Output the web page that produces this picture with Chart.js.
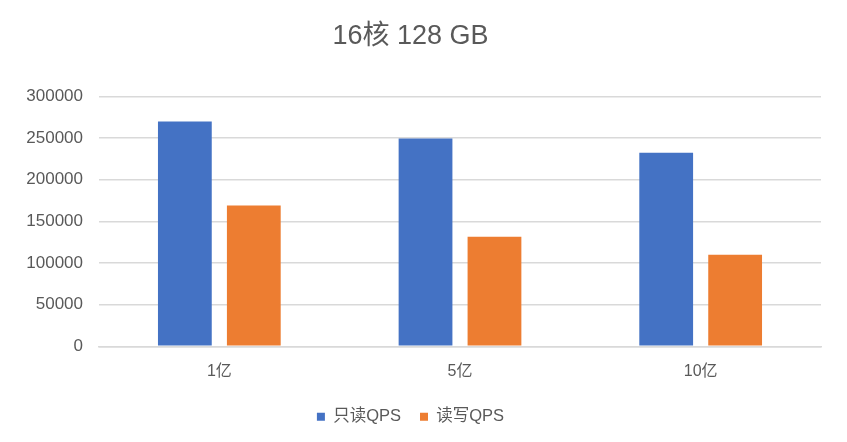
<!DOCTYPE html>
<html>
<head>
<meta charset="utf-8">
<script src="https://cdn.jsdelivr.net/npm/chart.js@4/dist/chart.umd.min.js"></script>
<style>
  html, body { margin: 0; padding: 0; background: #fff; }
  #wrap { width: 847px; height: 442px; }
</style>
</head>
<body>
<div id="wrap"><canvas id="grafico"></canvas></div>
<script>
const categorias = ['1亿', '5亿', '10亿'];
const somenteLeitura = [270000, 249500, 232500];
const leituraEscrita = [169000, 131500, 110000];
const nomesSeries = ['只读QPS', '读写QPS'];
const titulo = '16核 128 GB';

const fonte = "'Liberation Sans', 'Noto Sans CJK SC', sans-serif";
const cinza = '#595959';

new Chart(document.getElementById('grafico').getContext('2d'), {
    type: 'bar',
    data: {
        labels: categorias,
        datasets: [
            { label: nomesSeries[0], data: somenteLeitura, backgroundColor: '#4472c4' },
            { label: nomesSeries[1], data: leituraEscrita, backgroundColor: '#ed7d31' }
        ]
    },
    options: {
        responsive: true,
        maintainAspectRatio: false,
        animation: false,
        layout: { padding: { left: 0, right: 26, top: 20, bottom: 7 } },
        datasets: { bar: { categoryPercentage: 0.573, barPercentage: 0.78 } },
        plugins: {
            title: {
                display: true,
                text: titulo,
                color: cinza,
                font: { family: fonte, size: 27, weight: 'normal' },
                padding: { top: 0, bottom: 44 }
            },
            legend: {
                position: 'bottom',
                labels: {
                    color: cinza,
                    font: { family: fonte, size: 16.5 },
                    boxWidth: 8,
                    boxHeight: 8,
                    padding: 19
                }
            },
            tooltip: { enabled: false }
        },
        scales: {
            x: {
                grid: { display: false },
                border: { color: '#d9d9d9', width: 1.5 },
                ticks: { color: cinza, font: { family: fonte, size: 16 }, padding: 8 }
            },
            y: {
                min: 0,
                max: 300000,
                afterFit: s => { s.width = 99; },
                grid: { color: '#d9d9d9', lineWidth: 1.5, drawTicks: false },
                border: { display: false },
                ticks: {
                    stepSize: 50000,
                    color: cinza,
                    font: { family: fonte, size: 17 },
                    padding: 16,
                    callback: v => String(v)
                }
            }
        }
    }
});
</script>
</body>
</html>
